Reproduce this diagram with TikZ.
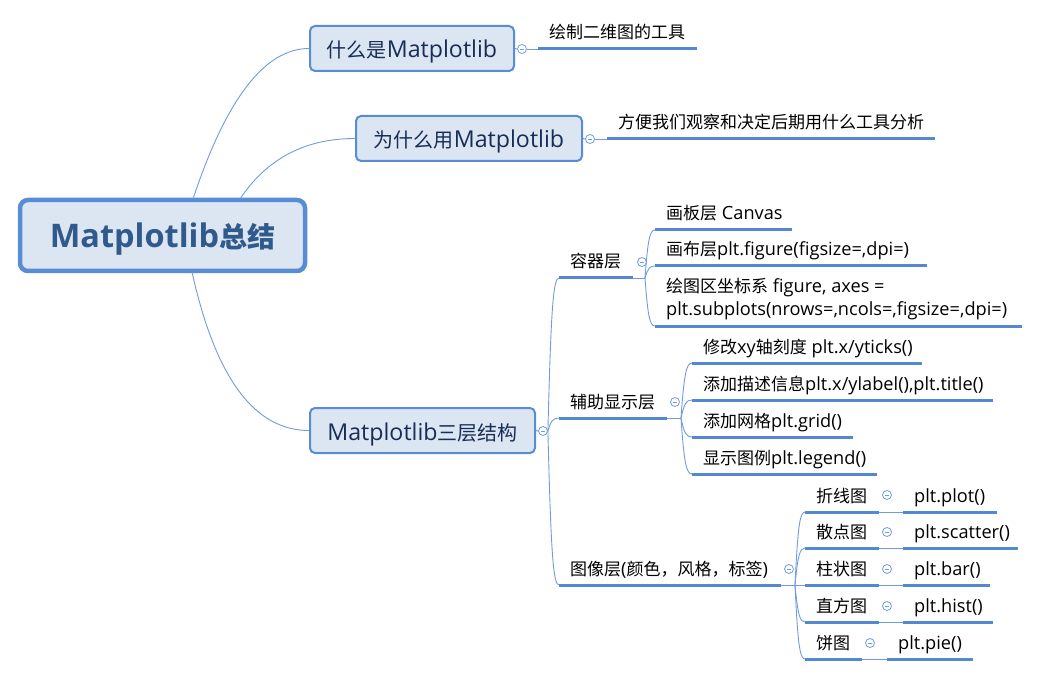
\documentclass[tikz,border=0pt]{standalone}
\usepackage{fontspec}
\setmainfont{Open Sans}[Scale=1.16]
\newfontfamily\latinfont{Open Sans}[Scale=1.16]
\newfontfamily\latinsm{Open Sans}[Scale=1.07]
\newfontfamily\cjkfont{Noto Sans CJK SC}
\let\curlatin\latinfont
\XeTeXinterchartokenstate=1
\newXeTeXintercharclass\cjkcls
\count255="3000 \loop \XeTeXcharclass\count255=\cjkcls \ifnum\count255<"303F \advance\count255 by 1 \repeat
\count255="4E00 \loop \XeTeXcharclass\count255=\cjkcls \ifnum\count255<"9FFF \advance\count255 by 1 \repeat
\count255="FF00 \loop \XeTeXcharclass\count255=\cjkcls \ifnum\count255<"FFEF \advance\count255 by 1 \repeat
\XeTeXinterchartoks 0 \cjkcls = {\cjkfont}
\XeTeXinterchartoks 4095 \cjkcls = {\cjkfont}
\XeTeXinterchartoks \cjkcls 0 = {\curlatin}
\XeTeXinterchartoks \cjkcls 4095 = {\curlatin}
\usetikzlibrary{calc}
\definecolor{ulblue}{RGB}{84,137,210}
\definecolor{cnblue}{RGB}{112,156,222}
\definecolor{boxfill}{RGB}{220,230,242}
\definecolor{boxline}{RGB}{88,140,212}
\definecolor{navy}{RGB}{24,45,85}
\definecolor{roottext}{RGB}{49,90,140}
\tikzset{
  ul/.style={line width=3pt, draw=ulblue},
  cn/.style={line width=0.9pt, draw=cnblue},
  lbl/.style={anchor=base west, inner sep=0pt, font=\let\curlatin\latinsm\latinsm\fontsize{17pt}{23pt}\selectfont, text=black, align=left},
  topic/.style={draw=boxline, fill=boxfill, line width=2pt, rounded corners=5pt, font=\fontsize{20pt}{24pt}\selectfont, text=navy, inner sep=0pt, text height=19pt, text depth=0pt},
  roottopic/.style={draw=boxline, fill=boxfill, line width=4.5pt, rounded corners=8pt, font=\fontsize{28pt}{32pt}\selectfont\bfseries, text=roottext, inner sep=0pt, text height=25pt, text depth=0pt},
  fold/.style={circle, draw=cnblue, fill=white, line width=0.8pt, minimum size=9pt, inner sep=0pt,
    path picture={\draw[cnblue, line width=0.8pt] ([xshift=-2.3pt]path picture bounding box.center) -- ([xshift=2.3pt]path picture bounding box.center);}},
}
% name, x1, x2, y, text
\newcommand\mmsub[5]{%
  \coordinate (#1-l) at (#2,#4);
  \coordinate (#1-r) at (#3,#4);
  \draw[ul] (#1-l) -- (#1-r);
  \node[lbl] (#1) at ($(#1-l)+(11,-10)$) {#5};
}
% from, to, fraction, weight
\newcommand\mmcurve[4]{%
  \coordinate (mmK) at ($(#1 |- #2)!#3!(#2)$);
  \draw[cn] (#1) .. controls ($(#1)!#4!(mmK)$) and ($(#2)!#4!(mmK)$) .. (#2);
}
\begin{document}
\begin{tikzpicture}[x=1pt,y=-1pt]
\useasboundingbox (0,0) rectangle (1041,676);

% root and level-1 topics
\node[roottopic, minimum width=285pt, minimum height=71pt] (root) at (162.5,235.5) {Matplotlib总结};
\node[topic, minimum width=204pt, minimum height=45pt] (t1) at (412,48.5) {什么是Matplotlib};
\node[topic, minimum width=226pt, minimum height=45pt] (t2) at (469,138.5) {为什么用Matplotlib};
\node[topic, minimum width=225pt, minimum height=45pt] (t3) at (422.5,430.5) {Matplotlib三层结构};

\coordinate (r1) at (193,199);
\coordinate (r2) at (240,199);
\coordinate (r3) at (192,272);
\mmcurve{r1}{t1.west}{0.43}{0.667}
\mmcurve{r2}{t2.west}{0.35}{0.667}
\mmcurve{r3}{t3.west}{0.3}{0.667}

% topic 1
\node[fold] (f1) at (522,49) {};
\mmsub{s1}{538}{697}{49}{绘制二维图的工具}
\draw[cn] (t1.east) -- (f1.west);
\draw[cn] (f1.east) -- (s1-l);

% topic 2
\node[fold] (f2) at (590,139) {};
\mmsub{s2}{607}{935}{139}{方便我们观察和决定后期用什么工具分析}
\draw[cn] (t2.east) -- (f2.west);
\draw[cn] (f2.east) -- (s2-l);

% topic 3
\node[fold] (f3) at (543,431) {};
\draw[cn] (t3.east) -- (f3.west);
\mmsub{c1}{559}{633}{278}{容器层}
\mmsub{c2}{559}{667}{418}{辅助显示层}
\mmsub{c3}{559}{781}{585}{图像层(颜色，风格，标签)}
\mmcurve{f3.east}{c1-l}{0.35}{0.8}
\mmcurve{f3.east}{c2-l}{0.35}{0.8}
\mmcurve{f3.east}{c3-l}{0.35}{0.8}

% container layer
\node[fold] (fc1) at (642,262) {};
\coordinate (p1) at (645,278);
\draw[cn] (c1-r) -- (p1);
\mmsub{c11}{655}{792}{230}{画板层 Canvas}
\mmsub{c12}{655}{927}{266}{画布层plt.figure(figsize=,dpi=)}
\mmsub{c13}{655}{1022}{326}{绘图区坐标系 figure, axes =\\plt.subplots(nrows=,ncols=,figsize=,dpi=)}
\mmcurve{p1}{c11-l}{0.35}{0.8}
\mmcurve{p1}{c12-l}{0.35}{0.8}
\mmcurve{p1}{c13-l}{0.35}{0.8}

% auxiliary layer
\node[fold] (fc2) at (675,402) {};
\coordinate (p2) at (681,418);
\draw[cn] (c2-r) -- (p2);
\mmsub{c21}{692}{922}{363}{修改xy轴刻度 plt.x/yticks()}
\mmsub{c22}{692}{993}{400}{添加描述信息plt.x/ylabel(),plt.title()}
\mmsub{c23}{692}{853}{437}{添加网格plt.grid()}
\mmsub{c24}{692}{877}{474}{显示图例plt.legend()}
\mmcurve{p2}{c21-l}{0.35}{0.8}
\mmcurve{p2}{c22-l}{0.35}{0.8}
\mmcurve{p2}{c23-l}{0.35}{0.8}
\mmcurve{p2}{c24-l}{0.35}{0.8}

% image layer
\node[fold] (fc3) at (789,569) {};
\coordinate (p3) at (795,585);
\draw[cn] (c3-r) -- (p3);
\mmsub{c31}{805}{879}{512}{折线图}
\mmsub{c32}{805}{879}{548}{散点图}
\mmsub{c33}{805}{879}{585}{柱状图}
\mmsub{c34}{805}{879}{622}{直方图}
\mmsub{c35}{805}{862}{659}{饼图}
\mmcurve{p3}{c31-l}{0.35}{0.8}
\mmcurve{p3}{c32-l}{0.35}{0.8}
\draw[cn] (p3) -- (c33-l);
\mmcurve{p3}{c34-l}{0.35}{0.8}
\mmcurve{p3}{c35-l}{0.35}{0.8}

\node[fold] (g1) at (887,495) {};
\node[fold] (g2) at (887,532) {};
\node[fold] (g3) at (887,569) {};
\node[fold] (g4) at (887,606) {};
\node[fold] (g5) at (870,643) {};
\mmsub{d1}{903}{997}{512}{plt.plot()}
\mmsub{d2}{903}{1018}{548}{plt.scatter()}
\mmsub{d3}{903}{990}{585}{plt.bar()}
\mmsub{d4}{903}{993}{622}{plt.hist()}
\mmsub{d5}{887}{973}{659}{plt.pie()}
\draw[cn] (c31-r) -- (d1-l);
\draw[cn] (c32-r) -- (d2-l);
\draw[cn] (c33-r) -- (d3-l);
\draw[cn] (c34-r) -- (d4-l);
\draw[cn] (c35-r) -- (d5-l);
\end{tikzpicture}
\end{document}
